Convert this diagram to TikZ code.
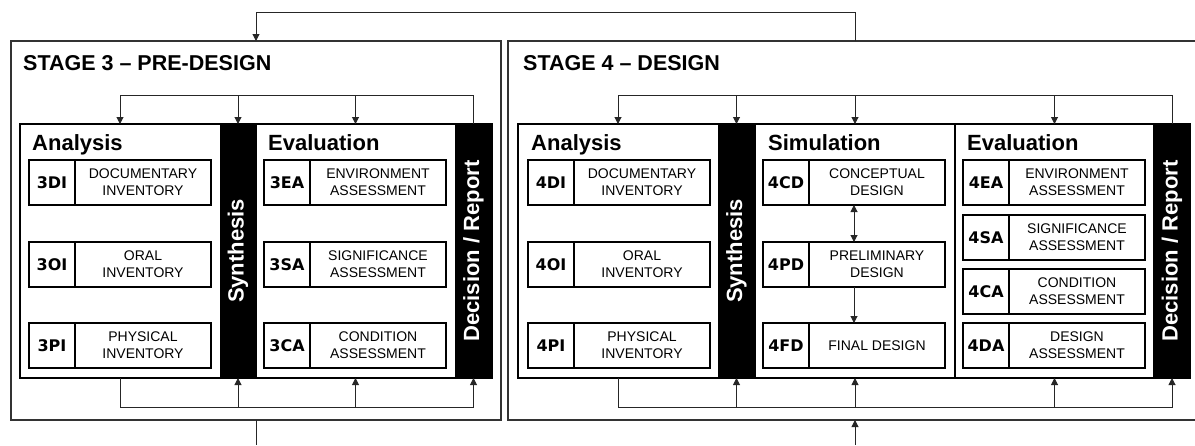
\documentclass[tikz,border=0pt]{standalone}
\usepackage{fontspec}
\setmainfont{Liberation Sans}
\newfontfamily\codefont{DejaVu Sans}
\usetikzlibrary{arrows.meta}
\tikzset{
  arr/.style={-{Triangle[width=7pt,length=7pt]}},
  dblarr/.style={{Triangle[width=7pt,length=7pt]}-{Triangle[width=7pt,length=7pt]}},
  wire/.style={line width=1pt, draw=black!85},
  region/.style={anchor=north west, inner sep=0pt, outer sep=0pt},
  stagebox/.style={region, draw=black!80, line width=1.3pt},
  innerbox/.style={region, draw=black, line width=1.2pt},
  blackbar/.style={region, fill=black, draw=black, line width=1pt},
  bartext/.style={rotate=90, text=white, font=\bfseries\fontsize{22}{26}\selectfont},
  titletext/.style={anchor=base west, inner sep=0pt, font=\bfseries\fontsize{21.5}{26}\selectfont},
  headtext/.style={anchor=base west, inner sep=0pt, font=\bfseries\fontsize{22}{26}\selectfont},
  itembox/.style={anchor=north west, draw=black, line width=1.2pt, minimum width=182pt, minimum height=45pt, inner sep=0pt, outer sep=0pt},
  codecell/.style={anchor=north west, draw=black, line width=1.2pt, minimum width=46pt, minimum height=45pt, inner sep=0pt, outer sep=0pt, font=\codefont\bfseries\fontsize{16}{18}\selectfont},
  desccell/.style={anchor=north west, minimum width=136pt, minimum height=45pt, inner sep=0pt, outer sep=0pt, align=center, font=\fontsize{14}{17}\selectfont},
}
\newcommand\mkitem[5]{%
  \node[itembox] (#1) at (#2,#3) {};
  \node[codecell] (#1c) at (#2,#3) {#4};
  \node[desccell] (#1d) at (#1c.north east) {#5};
}
\begin{document}
\begin{tikzpicture}[x=1pt,y=-1pt]
\useasboundingbox (0,0) rectangle (1195,445);
% ---------------- stage boxes
\node[stagebox, minimum width=490pt, minimum height=379pt] (s3) at (11,41) {};
\node[stagebox, minimum width=690pt, minimum height=379pt] (s4) at (508,41) {};
\node[titletext] (t3) at (23,70) {STAGE 3 \textendash{} PRE-DESIGN};
\node[titletext] (t4) at (523,70) {STAGE 4 \textendash{} DESIGN};
% ---------------- stage 3 inner
\node[innerbox, minimum width=472pt, minimum height=254pt] (in3) at (20,124) {};
\node[region, minimum width=200pt, minimum height=254pt] (an3) at (20,124) {};
\node[region, minimum width=199pt, minimum height=254pt] (ev3) at (256,124) {};
\node[blackbar, minimum width=36pt, minimum height=254pt] (syn3) at (220,124) {};
\node[blackbar, minimum width=37pt, minimum height=254pt] (dec3) at (455,124) {};
\node[bartext] (syn3t) at (syn3.center) {Synthesis};
\node[bartext] (dec3t) at (dec3.center) {Decision / Report};
\node[headtext] (h3a) at (32,150) {Analysis};
\node[headtext] (h3e) at (268,150) {Evaluation};
\mkitem{i3di}{29}{160}{3DI}{DOCUMENTARY\\INVENTORY}
\mkitem{i3oi}{29}{242}{3OI}{ORAL\\INVENTORY}
\mkitem{i3pi}{29}{323}{3PI}{PHYSICAL\\INVENTORY}
\mkitem{i3ea}{264}{160}{3EA}{ENVIRONMENT\\ASSESSMENT}
\mkitem{i3sa}{264}{242}{3SA}{SIGNIFICANCE\\ASSESSMENT}
\mkitem{i3ca}{264}{323}{3CA}{CONDITION\\ASSESSMENT}
% ---------------- stage 4 inner
\node[innerbox, minimum width=672pt, minimum height=254pt] (in4) at (518,124) {};
\node[region, minimum width=200pt, minimum height=254pt] (an4) at (518,124) {};
\node[region, minimum width=200pt, minimum height=254pt] (sim4) at (755,124) {};
\node[innerbox, minimum width=199pt, minimum height=254pt] (ev4) at (955,124) {};
\node[blackbar, minimum width=37pt, minimum height=254pt] (syn4) at (718,124) {};
\node[blackbar, minimum width=36pt, minimum height=254pt] (dec4) at (1154,124) {};
\node[bartext] (syn4t) at (syn4.center) {Synthesis};
\node[bartext] (dec4t) at (dec4.center) {Decision / Report};
\node[headtext] (h4a) at (531,150) {Analysis};
\node[headtext] (h4s) at (768,150) {Simulation};
\node[headtext] (h4e) at (967,150) {Evaluation};
\mkitem{i4di}{528}{160}{4DI}{DOCUMENTARY\\INVENTORY}
\mkitem{i4oi}{528}{242}{4OI}{ORAL\\INVENTORY}
\mkitem{i4pi}{528}{323}{4PI}{PHYSICAL\\INVENTORY}
\mkitem{i4cd}{763}{160}{4CD}{CONCEPTUAL\\DESIGN}
\mkitem{i4pd}{763}{242}{4PD}{PRELIMINARY\\DESIGN}
\mkitem{i4fd}{763}{323}{4FD}{FINAL DESIGN}
\mkitem{i4ea}{963}{160}{4EA}{ENVIRONMENT\\ASSESSMENT}
\mkitem{i4sa}{963}{215}{4SA}{SIGNIFICANCE\\ASSESSMENT}
\mkitem{i4ca}{963}{269}{4CA}{CONDITION\\ASSESSMENT}
\mkitem{i4da}{963}{323}{4DA}{DESIGN\\ASSESSMENT}
% ---------------- helper coordinates
\coordinate (fb) at (855,12);
\coordinate (s4top) at (855,41);
\coordinate (s4bot) at (855,420);
\coordinate (edgeL) at (256,445);
\coordinate (edgeR) at (855,445);
\coordinate (up) at (0,95);
\coordinate (dn) at (0,407);
% ---------------- connectors
\draw[wire, arr] (s4top) -- (fb) -| (s3.north);
\draw[wire] (s3.south) -- (edgeL);
\draw[wire, arr] (edgeR) -- (s4bot);
% stage 3 top
\draw[wire, arr] (dec3.north) -- (dec3.north |- up) -| (an3.north);
\draw[wire, arr] (syn3.north |- up) -- (syn3.north);
\draw[wire, arr] (ev3.north |- up) -- (ev3.north);
% stage 3 bottom
\draw[wire, arr] (an3.south) -- (an3.south |- dn) -| (dec3.south);
\draw[wire, arr] (syn3.south |- dn) -- (syn3.south);
\draw[wire, arr] (ev3.south |- dn) -- (ev3.south);
% stage 4 top
\draw[wire, arr] (dec4.north) -- (dec4.north |- up) -| (an4.north);
\draw[wire, arr] (syn4.north |- up) -- (syn4.north);
\draw[wire, arr] (sim4.north |- up) -- (sim4.north);
\draw[wire, arr] (ev4.north |- up) -- (ev4.north);
% stage 4 bottom
\draw[wire, arr] (an4.south) -- (an4.south |- dn) -| (dec4.south);
\draw[wire, arr] (syn4.south |- dn) -- (syn4.south);
\draw[wire, arr] (sim4.south |- dn) -- (sim4.south);
\draw[wire, arr] (ev4.south |- dn) -- (ev4.south);
% simulation internal
\draw[wire, dblarr] (i4cd.south) -- (i4pd.north);
\draw[wire, arr] (i4pd.south) -- (i4fd.north);
\end{tikzpicture}
\end{document}
